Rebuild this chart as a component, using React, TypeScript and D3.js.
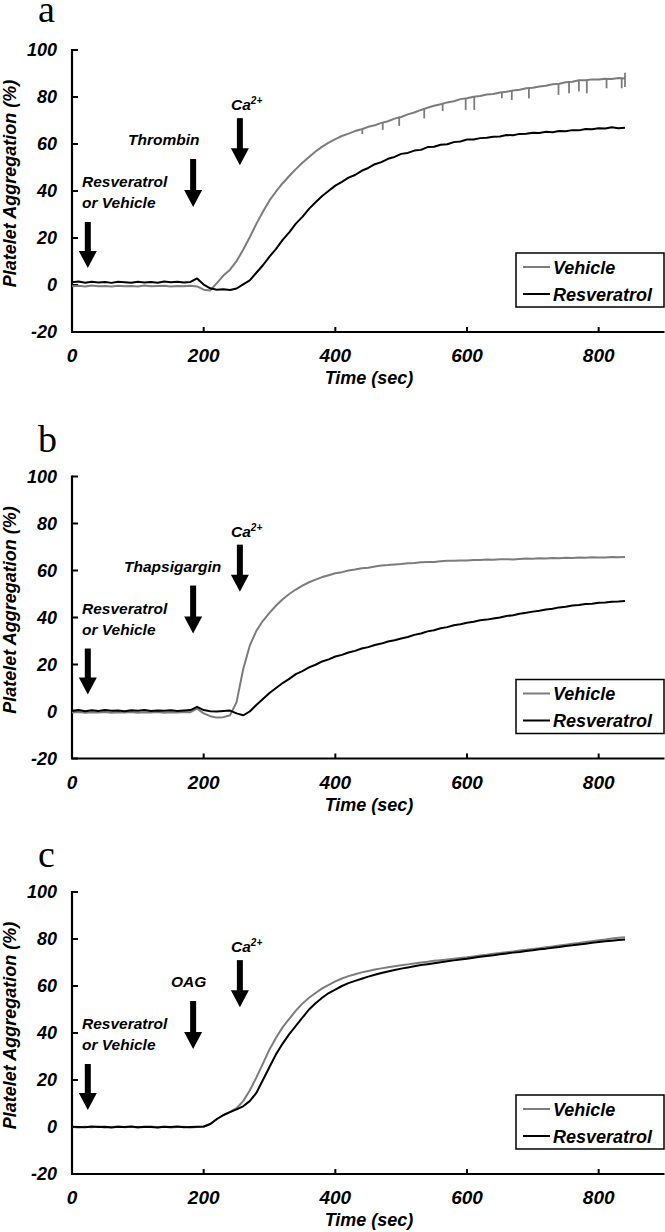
import * as d3 from "d3";

// sampled every 10 s, 0..840 s
const vehA = [
  -0.5, -0.3, -0.6, -0.2, -0.5, -0.4, -0.6, -0.3, -0.5, -0.4,
  -0.6, -0.2, -0.5, -0.4, -0.3, -0.6, -0.4, -0.5, -0.3, -0.6,
  -2.0, -2.3, 0.8, 4.0, 6.5, 10.2, 15.0, 20.3, 26.0, 31.2,
  36.0, 39.8, 43.3, 46.4, 49.3, 52.0, 54.5, 56.8, 58.9, 60.6,
  62.1, 63.4, 64.4, 65.5, 66.3, 67.3, 68.0, 69.0, 69.7, 70.8,
  71.5, 72.6, 73.4, 74.5, 75.4, 76.3, 76.9, 77.7, 78.2, 79.1,
  79.5, 80.1, 80.4, 81.1, 81.3, 81.9, 82.2, 82.8, 83.1, 83.7,
  83.9, 84.5, 84.8, 85.4, 85.6, 86.3, 86.5, 87.1, 87.1, 87.5,
  87.4, 87.8, 87.7, 88.1, 87.9,
];
const resA = [
  1.2, 1.5, 1.0, 1.4, 1.1, 1.3, 0.9, 1.4, 1.2, 1.0,
  1.4, 1.1, 1.3, 1.0, 1.5, 1.2, 1.4, 1.1, 1.3, 2.8,
  0.2, -1.4, -2.0, -1.8, -2.1, -1.5, 0.3, 2.0, 5.2, 8.4,
  12.1, 15.4, 19.2, 22.4, 26.1, 29.0, 32.4, 35.2, 37.9, 40.1,
  42.3, 43.9, 45.7, 46.8, 48.6, 49.8, 51.4, 52.3, 53.7, 54.5,
  55.8, 56.2, 57.2, 57.5, 58.7, 58.8, 59.7, 59.9, 60.8, 61.1,
  61.9, 61.9, 62.5, 62.7, 63.1, 63.2, 63.8, 63.7, 64.3, 64.4,
  64.8, 64.7, 65.2, 65.0, 65.5, 65.4, 65.9, 65.8, 66.4, 66.3,
  66.7, 66.6, 67.1, 66.7, 66.9,
];
// downward spikes on the vehicle trace of panel a: [sec, top, bottom]
const spikesA = [
  [441, 66.5, 64.2], [472, 69.2, 66.0], [497, 71.6, 67.7], [535, 75.0, 70.9],
  [563, 77.2, 74.0], [598, 79.4, 74.5], [611, 80.1, 74.5], [653, 82.0, 79.5],
  [668, 82.6, 78.7], [694, 83.7, 79.4], [739, 85.6, 80.9], [755, 86.3, 81.6],
  [770, 87.0, 82.3], [782, 87.1, 81.6], [812, 87.7, 83.7], [835, 88.0, 83.7],
  [840, 90.3, 84.3],
];

const vehB = [
  -0.4, -0.2, -0.5, -0.3, -0.4, -0.2, -0.5, -0.3, -0.4, -0.2,
  -0.5, -0.3, -0.4, -0.2, -0.5, -0.3, -0.4, -0.2, -0.3, 1.2,
  -0.8, -2.0, -2.6, -2.4, -1.6, 4.0, 18.0, 28.0, 34.3, 38.6,
  42.0, 45.1, 47.8, 50.0, 51.9, 53.6, 55.0, 56.1, 57.2, 58.0,
  58.8, 59.3, 60.0, 60.4, 61.0, 61.2, 61.7, 62.1, 62.3, 62.6,
  62.8, 63.1, 63.2, 63.5, 63.6, 63.6, 63.9, 64.1, 64.1, 64.3,
  64.3, 64.5, 64.5, 64.7, 64.6, 64.8, 64.8, 64.7, 64.9, 65.1,
  65.0, 65.2, 65.1, 65.3, 65.2, 65.4, 65.3, 65.5, 65.4, 65.6,
  65.5, 65.5, 65.7, 65.6, 65.7,
];
const resB = [
  0.3, 0.6, 0.1, 0.5, 0.2, 0.6, 0.3, 0.4, 0.1, 0.5,
  0.3, 0.6, 0.2, 0.4, 0.3, 0.5, 0.2, 0.4, 0.6, 2.0,
  0.6, 0.1, 0.0, 0.2, 0.4, -0.8, -1.6, 0.0, 2.8, 5.3,
  7.9, 10.0, 12.1, 13.9, 15.9, 17.2, 18.8, 19.9, 21.3, 22.2,
  23.4, 24.1, 25.1, 25.8, 26.8, 27.4, 28.3, 28.9, 29.8, 30.3,
  31.1, 31.7, 32.6, 33.2, 34.1, 34.6, 35.4, 35.9, 36.7, 37.1,
  37.8, 38.2, 38.8, 39.1, 39.6, 40.0, 40.6, 41.0, 41.6, 42.0,
  42.5, 42.9, 43.4, 43.7, 44.3, 44.6, 45.1, 45.3, 45.7, 45.9,
  46.3, 46.4, 46.7, 46.8, 47.0,
];

const vehC = [
  0.0, -0.2, 0.1, -0.1, 0.2, -0.2, 0.0, 0.2, -0.1, 0.1,
  -0.2, 0.0, 0.2, -0.1, 0.1, -0.2, 0.0, 0.1, -0.2, 0.0,
  0.1, 1.2, 3.3, 5.0, 6.4, 8.0, 11.0, 15.5, 21.0, 27.0,
  33.0, 38.0, 42.5, 46.0, 49.5, 52.5, 55.0, 57.0, 59.0, 60.5,
  62.0, 63.2, 64.2, 65.0, 65.8, 66.4, 67.0, 67.5, 68.0, 68.4,
  68.8, 69.2, 69.6, 70.0, 70.3, 70.7, 71.0, 71.3, 71.6, 71.9,
  72.2, 72.6, 73.0, 73.3, 73.7, 74.0, 74.4, 74.7, 75.1, 75.4,
  75.8, 76.1, 76.5, 76.8, 77.2, 77.6, 78.0, 78.3, 78.7, 79.1,
  79.5, 79.8, 80.2, 80.5, 80.8,
];
const resC = [
  0.1, 0.0, -0.1, 0.2, 0.0, 0.1, -0.2, 0.1, 0.0, 0.2,
  -0.1, 0.1, 0.0, -0.2, 0.1, 0.0, 0.2, -0.1, 0.0, 0.1,
  0.2, 1.3, 3.4, 5.1, 6.3, 7.5, 8.8, 11.0, 14.5, 20.0,
  25.5, 31.0, 35.5, 39.5, 43.0, 46.5, 50.0, 52.7, 55.0, 57.0,
  58.5, 60.0, 61.2, 62.2, 63.1, 64.0, 64.8, 65.5, 66.2, 66.8,
  67.4, 67.9, 68.4, 68.9, 69.3, 69.7, 70.1, 70.5, 70.9, 71.3,
  71.6, 72.0, 72.4, 72.8, 73.1, 73.5, 73.8, 74.2, 74.5, 74.9,
  75.2, 75.6, 75.9, 76.3, 76.6, 77.0, 77.3, 77.7, 78.0, 78.4,
  78.7, 79.0, 79.3, 79.6, 79.8,
];

const panelLetters = ["a", "b", "c"];
const agonists = ["Thrombin", "Thapsigargin", "OAG"];
const xTicks = [0, 200, 400, 600, 800];
const yTicks = [-20, 0, 20, 40, 60, 80, 100];
// arrow time (sec), arrow top value, arrow tip value
const arrowTimes = [24, 184, 255];
const arrowTops = [26.8, 53.6, 71];
const arrowTips = [7.2, 33.2, 51];
const seriesNames = ["Vehicle", "Resveratrol"];

const GRAY = "#7c7c7c";
const FONT = "'Liberation Sans', Arial, sans-serif";
const STEP = 10;

const panelTops = [50, 476.5, 892];
const letterBase = [22, 452, 867];
const agonistX = [128, 124, 171];

const W = 665;
const H = 1232;
const plotH = 282;
const x = d3.scaleLinear().domain([0, 900]).range([72, 664.5]);

type PanelProps = {
  idx: number;
  veh: number[];
  res: number[];
  spikes?: number[][];
};

function Arrow({ cx, y0, y1 }: { cx: number; y0: number; y1: number }) {
  const headL = 17;
  const headW = 9;
  return (
    <g fill="#000">
      <rect x={cx - 3} y={y0} width={6} height={y1 - y0 - headL + 1} />
      <path d={`M${cx - headW},${y1 - headL} L${cx + headW},${y1 - headL} L${cx},${y1} Z`} />
    </g>
  );
}

function Panel({ idx, veh, res, spikes }: PanelProps) {
  const top = panelTops[idx];
  const y = d3.scaleLinear().domain([-20, 100]).range([top + plotH, top]);
  const line = d3
    .line<number>()
    .x((_, i) => x(i * STEP))
    .y((d) => y(d));
  const x0 = x(0);
  const yb = y(-20);

  return (
    <g>
      <text x={38} y={letterBase[idx]} fontFamily="'Liberation Serif', 'Times New Roman', serif" fontSize={38}>
        {panelLetters[idx]}
      </text>

      {/* y title */}
      <text
        transform={`translate(16,${top + 133.5}) rotate(-90)`}
        textAnchor="middle"
        fontFamily={FONT}
        fontWeight="bold"
        fontStyle="italic"
        fontSize={18}
      >
        Platelet Aggregation (%)
      </text>

      {/* axes */}
      <line x1={x0} x2={x0} y1={y(100) - 1} y2={yb} stroke="#000" strokeWidth={2.2} />
      <line x1={x0 - 1} x2={x(900)} y1={yb} y2={yb} stroke="#000" strokeWidth={2.2} />
      {yTicks.map((t) => (
        <g key={"y" + t}>
          <line x1={x0} x2={x0 + 6} y1={y(t)} y2={y(t)} stroke="#000" strokeWidth={2} />
          <text
            x={57}
            y={y(t) + 6}
            textAnchor="end"
            fontFamily={FONT}
            fontWeight="bold"
            fontStyle="italic"
            fontSize={18}
          >
            {t}
          </text>
        </g>
      ))}
      {xTicks.map((t) => (
        <g key={"x" + t}>
          <line x1={x(t)} x2={x(t)} y1={yb} y2={yb - 5} stroke="#000" strokeWidth={2} />
          <text
            x={x(t)}
            y={yb + 30}
            textAnchor="middle"
            fontFamily={FONT}
            fontWeight="bold"
            fontStyle="italic"
            fontSize={19}
          >
            {t}
          </text>
        </g>
      ))}
      <text
        x={369}
        y={yb + 52}
        textAnchor="middle"
        fontFamily={FONT}
        fontWeight="bold"
        fontStyle="italic"
        fontSize={18}
      >
        Time (sec)
      </text>

      {/* traces */}
      <path d={line(veh) || ""} fill="none" stroke={GRAY} strokeWidth={2} strokeLinejoin="round" />
      {spikes &&
        spikes.map(([t, a, b], i) => (
          <line key={i} x1={x(t)} x2={x(t)} y1={y(a)} y2={y(b)} stroke={GRAY} strokeWidth={1.8} />
        ))}
      <path d={line(res) || ""} fill="none" stroke="#000" strokeWidth={2} strokeLinejoin="round" />

      {/* annotations */}
      <g fontFamily={FONT} fontWeight="bold" fontStyle="italic" fontSize={15.5}>
        <text x={82} y={top + 137}>Resveratrol</text>
        <text x={82} y={top + 158}>or Vehicle</text>
        <text x={agonistX[idx]} y={top + 95}>{agonists[idx]}</text>
        <text x={231} y={top + 60}>
          Ca<tspan fontSize={10} dy={-6}>2+</tspan>
        </text>
      </g>
      {arrowTimes.map((t, i) => (
        <Arrow key={i} cx={x(t)} y0={y(arrowTops[i])} y1={y(arrowTips[i])} />
      ))}

      {/* legend */}
      <rect x={516} y={top + 203} width={148} height={54} fill="#fff" stroke="#000" strokeWidth={1.5} />
      {seriesNames.map((n, i) => (
        <g key={n}>
          <line
            x1={523}
            x2={550}
            y1={top + 217 + i * 27}
            y2={top + 217 + i * 27}
            stroke={i === 0 ? GRAY : "#000"}
            strokeWidth={2}
          />
          <text
            x={553}
            y={top + 223.5 + i * 27}
            fontFamily={FONT}
            fontWeight="bold"
            fontStyle="italic"
            fontSize={18}
          >
            {n}
          </text>
        </g>
      ))}
    </g>
  );
}

export default function App() {
  return (
    <svg
      width={W}
      height={H}
      style={{ position: "absolute", left: 0, top: 0, background: "#fff" }}
    >
      <rect width={W} height={H} fill="#fff" />
      <Panel idx={0} veh={vehA} res={resA} spikes={spikesA} />
      <Panel idx={1} veh={vehB} res={resB} />
      <Panel idx={2} veh={vehC} res={resC} />
    </svg>
  );
}
